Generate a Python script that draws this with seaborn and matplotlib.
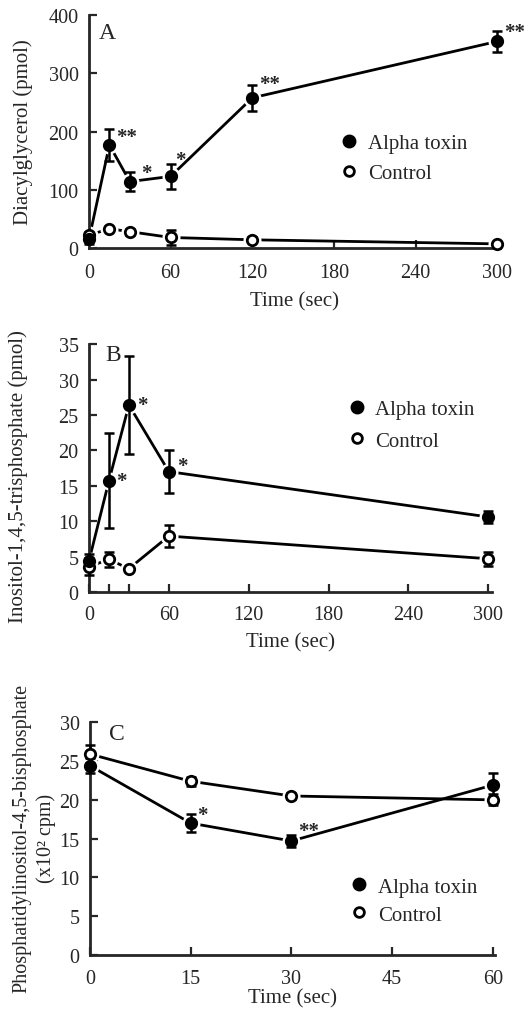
import matplotlib
matplotlib.use("Agg")
import matplotlib.pyplot as plt
from matplotlib.lines import Line2D
import seaborn as sns

# ---------------------------------------------------
# Data (mean +/- error)
# ---------------------------------------------------
# A: diacylglycerol (pmol)
time_a = [0, 15, 30, 60, 120, 300]
dag_toxin = [15, 177, 114, 123, 258, 355]
dag_toxin_err = [8, 28, 16, 21, 22, 18]
dag_ctrl = [22, 33, 28, 18, 14, 7]
dag_ctrl_err = [5, 3, 5, 13, 4, 3]
dag_stars = ["", "**", "*", "*", "**", "**"]

# B: inositol-1,4,5-trisphosphate (pmol)
time_b = [0, 15, 30, 60, 300]
ip3_toxin = [4.4, 15.7, 26.4, 17.0, 10.6]
ip3_toxin_err = [1.0, 6.7, 6.9, 3.0, 0.9]
ip3_ctrl = [3.6, 4.6, 3.3, 7.9, 4.7]
ip3_ctrl_err = [1.2, 1.1, 0.0, 1.5, 1.0]
ip3_stars = ["", "*", "*", "*", ""]

# C: phosphatidylinositol-4,5-bisphosphate (x10^2 cpm)
time_c = [0, 15, 30, 60]
pip2_toxin = [24.4, 17.0, 14.7, 21.9]
pip2_toxin_err = [1.0, 1.2, 0.8, 1.5]
pip2_ctrl = [25.9, 22.4, 20.5, 20.0]
pip2_ctrl_err = [1.2, 0.6, 0.4, 0.7]
pip2_stars = ["", "*", "**", ""]

#%% STYLE
sns.set_style("ticks")
plt.rcParams["font.family"] = ["Liberation Serif", "DejaVu Serif"]
plt.rcParams["axes.linewidth"] = 2.0

TICK_FS = 14.5
LABEL_FS = 15
LEGEND_FS = 15
STAR_FS = 15


def draw_series(ax, t, y, err, filled):
    face = "black" if filled else "white"
    sns.lineplot(x=t, y=y, ax=ax, color="black", linewidth=2.0,
                 zorder=1, clip_on=False)
    # white halo gives the small gaps between the lines and the markers
    ax.plot(t, y, linestyle="none", marker="o", markersize=13,
            markerfacecolor="white", markeredgecolor="none",
            zorder=2, clip_on=False)
    ax.errorbar(t, y, yerr=err, fmt="none", ecolor="black",
                elinewidth=1.8, capsize=3.5, capthick=1.8,
                zorder=3, clip_on=False)
    ax.plot(t, y, linestyle="none", marker="o", markersize=7.5,
            markerfacecolor=face, markeredgecolor="black",
            markeredgewidth=2.0, zorder=4, clip_on=False)


def add_stars(ax, t, y, stars, offsets):
    for xi, yi, s, off in zip(t, y, stars, offsets):
        if s:
            ax.annotate(s, (xi, yi), xytext=off, textcoords="offset points",
                        ha="left", va="center", fontsize=STAR_FS,
                        fontweight="bold")


def style_axes(ax, letter, letter_xy, xpad):
    sns.despine(ax=ax)
    ax.tick_params(direction="in", length=6, width=1.6,
                   labelsize=TICK_FS)
    ax.tick_params(axis="y", pad=7.5)
    ax.tick_params(axis="x", pad=xpad)
    ax.tick_params(which="minor", direction="in", length=6, width=1.6)
    ax.text(letter_xy[0], letter_xy[1], letter, transform=ax.transAxes,
            ha="center", va="center", fontsize=17)


def add_legend(ax, anchor, spacing):
    handles = [
        Line2D([], [], linestyle="none", marker="o", markersize=9,
               markerfacecolor="black", markeredgecolor="black"),
        Line2D([], [], linestyle="none", marker="o", markersize=7,
               markerfacecolor="white", markeredgecolor="black",
               markeredgewidth=2.0),
    ]
    ax.legend(handles, ["Alpha toxin", "Control"], loc="upper left",
              bbox_to_anchor=anchor, frameon=False, fontsize=LEGEND_FS,
              handlelength=0.8, handletextpad=0.5, borderpad=0,
              borderaxespad=0, labelspacing=spacing)


fig = plt.figure(figsize=(5.25, 10.12), dpi=100)
ax_a = fig.add_axes([0.1695, 0.754, 0.783, 0.230])
ax_b = fig.add_axes([0.1695, 0.414, 0.768, 0.245])
ax_c = fig.add_axes([0.1714, 0.0553, 0.771, 0.230])

# ---------------------------------------------------
# Panel A
# ---------------------------------------------------
draw_series(ax_a, time_a, dag_ctrl, dag_ctrl_err, filled=False)
draw_series(ax_a, time_a, dag_toxin, dag_toxin_err, filled=True)
add_stars(ax_a, time_a, dag_toxin, dag_stars,
          [(0, 0), (5, 6), (8, 6), (3, 12), (5, 10), (5, 7)])
ax_a.set_xlim(0, 302)
ax_a.set_ylim(0, 400)
ax_a.set_xticks([0, 60, 120, 180, 240, 300])
ax_a.set_yticks([0, 100, 200, 300, 400])
ax_a.set_xlabel("Time (sec)", fontsize=LABEL_FS, labelpad=7)
ax_a.set_ylabel("Diacylglycerol (pmol)", fontsize=LABEL_FS, va="center")
ax_a.yaxis.set_label_coords(-0.16, 0.5)
style_axes(ax_a, "A", (0.044, 0.927), 10.5)
add_legend(ax_a, (0.612, 0.49), 0.5)

# ---------------------------------------------------
# Panel B
# ---------------------------------------------------
draw_series(ax_b, time_b, ip3_ctrl, ip3_ctrl_err, filled=False)
draw_series(ax_b, time_b, ip3_toxin, ip3_toxin_err, filled=True)
add_stars(ax_b, time_b, ip3_toxin, ip3_stars,
          [(0, 0), (5, 0), (6, 0), (6, 4), (0, 0)])
ax_b.set_xlim(0, 303)
ax_b.set_ylim(0, 35)
ax_b.set_xticks([0, 60, 120, 180, 240, 300])
ax_b.set_xticks([15, 30], minor=True)
ax_b.set_yticks([0, 5, 10, 15, 20, 25, 30, 35])
ax_b.set_xlabel("Time (sec)", fontsize=LABEL_FS, labelpad=6)
ax_b.set_ylabel("Inositol-1,4,5-trisphosphate (pmol)", fontsize=LABEL_FS,
                va="center")
ax_b.yaxis.set_label_coords(-0.176, 0.47)
style_axes(ax_b, "B", (0.06, 0.96), 9)
add_legend(ax_b, (0.643, 0.775), 0.55)

# ---------------------------------------------------
# Panel C
# ---------------------------------------------------
draw_series(ax_c, time_c, pip2_ctrl, pip2_ctrl_err, filled=False)
draw_series(ax_c, time_c, pip2_toxin, pip2_toxin_err, filled=True)
add_stars(ax_c, time_c, pip2_toxin, pip2_stars,
          [(0, 0), (5, 6), (5, 7), (0, 0)])
ax_c.set_xlim(0, 60.3)
ax_c.set_ylim(0, 30)
ax_c.set_xticks([0, 15, 30, 45, 60])
ax_c.set_yticks([0, 5, 10, 15, 20, 25, 30])
ax_c.set_xlabel("Time (sec)", fontsize=LABEL_FS, labelpad=0)
ax_c.set_ylabel("Phosphatidylinositol-4,5-bisphosphate\n(x10² cpm)",
                fontsize=14.5, linespacing=1.3, va="center")
ax_c.yaxis.set_label_coords(-0.138, 0.505)
style_axes(ax_c, "C", (0.067, 0.953), 10)
add_legend(ax_c, (0.645, 0.335), 0.4)

fig.savefig("out.png", dpi=100)
